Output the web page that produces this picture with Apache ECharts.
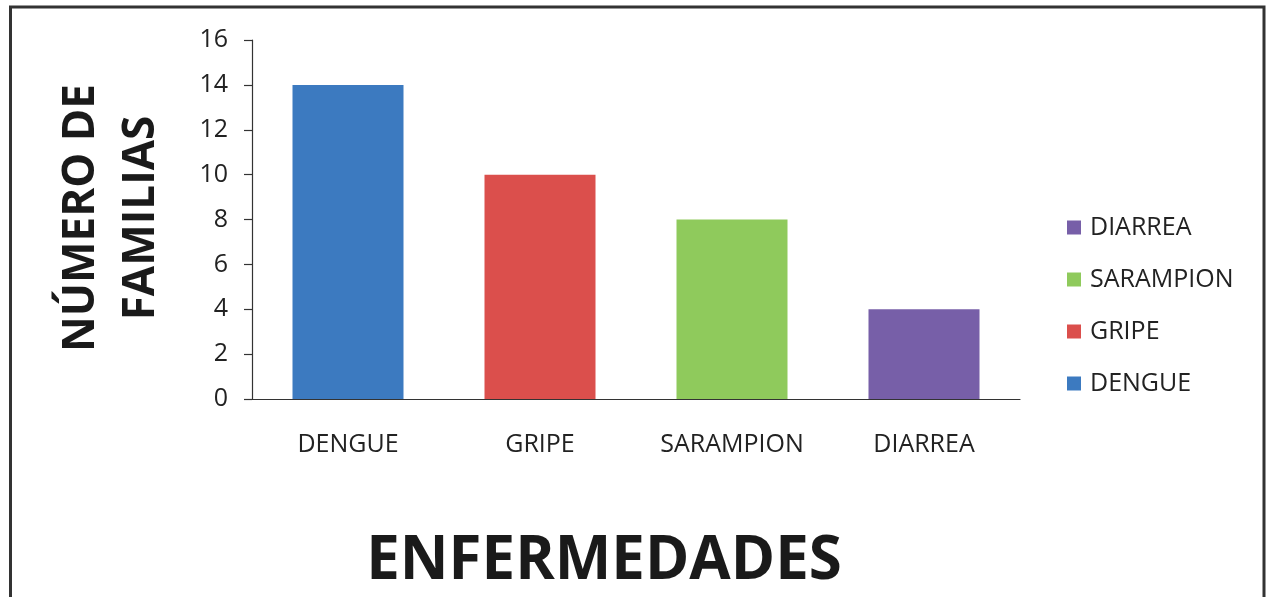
<!DOCTYPE html>
<html>
<head>
<meta charset="utf-8">
<title>Enfermedades</title>
<script src="https://cdn.jsdelivr.net/npm/echarts@6/dist/echarts.min.js"></script>
<style>
  html, body { margin: 0; padding: 0; background: #ffffff; }
  #chart { width: 1268px; height: 597px; }
</style>
</head>
<body>
<div id="chart"></div>
<script>
// Diseases and number of families reporting each one
const categories = ['DENGUE', 'GRIPE', 'SARAMPION', 'DIARREA'];
const familias = [14, 10, 8, 4];
const colores = ['#3C7AC0', '#DB4F4C', '#8FCA5C', '#775FA8'];
const legendOrder = ['DIARREA', 'SARAMPION', 'GRIPE', 'DENGUE'];
const yTicks = { min: 0, max: 16, interval: 2 };

const FONT = '"Open Sans", "DejaVu Sans", sans-serif';
const chart = echarts.init(document.getElementById('chart'), null, { renderer: 'canvas' });

// One series per disease, stacked so each bar sits centred on its own category
const series = categories.map((name, i) => ({
  name: name,
  type: 'bar',
  stack: 'enf',
  barWidth: 111,
  itemStyle: { color: colores[i] },
  data: categories.map((_, j) => (j === i ? familias[i] : '-'))
}));

chart.setOption({
  animation: false,
  backgroundColor: '#ffffff',
  grid: { left: 252, right: 248, top: 40, bottom: 198, containLabel: false },
  legend: {
    data: legendOrder,
    orient: 'vertical',
    left: 1062,
    top: 210,
    icon: 'rect',
    itemWidth: 14,
    itemHeight: 14,
    itemGap: 27,
    textStyle: { fontFamily: FONT, fontSize: 25, color: '#222', padding: [0, 0, 0, 4] }
  },
  xAxis: {
    type: 'category',
    data: categories,
    axisLine: { show: true, lineStyle: { color: '#333', width: 1.2 } },
    axisTick: { show: false },
    axisLabel: { fontFamily: FONT, fontSize: 25, color: '#222', margin: 33 },
    splitLine: { show: false }
  },
  yAxis: {
    type: 'value',
    min: yTicks.min,
    max: yTicks.max,
    interval: yTicks.interval,
    axisLine: { show: true, lineStyle: { color: '#333', width: 1.2 } },
    axisTick: { show: true, length: 8, inside: false, lineStyle: { color: '#333', width: 1.2 } },
    axisLabel: { fontFamily: FONT, fontSize: 25, color: '#222', margin: 24 },
    splitLine: { show: false }
  },
  graphic: [
    {
      type: 'rect',
      silent: true,
      shape: { x: 10.5, y: 7, width: 1253.5, height: 620 },
      style: { fill: 'none', stroke: '#333', lineWidth: 3 }
    },
    {
      type: 'text',
      silent: true,
      x: 111,
      y: 218,
      rotation: Math.PI / 2,
      style: {
        text: 'NÚMERO DE\nFAMILIAS',
        fontFamily: FONT,
        fontWeight: 'bold',
        fontSize: 44,
        lineHeight: 60,
        fill: '#1a1a1a',
        align: 'center',
        verticalAlign: 'middle'
      }
    },
    {
      type: 'text',
      silent: true,
      x: 604,
      y: 562,
      style: {
        text: 'ENFERMEDADES',
        fontFamily: FONT,
        fontWeight: 'bold',
        fontSize: 60,
        fill: '#1a1a1a',
        align: 'center',
        verticalAlign: 'middle'
      }
    }
  ],
  series: series
});
</script>
</body>
</html>
